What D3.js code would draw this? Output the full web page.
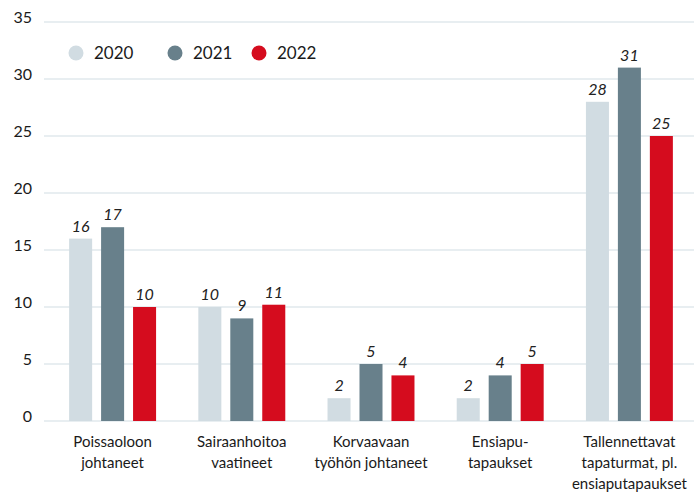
<!DOCTYPE html>
<html>
<head>
<meta charset="utf-8">
<script src="https://cdn.jsdelivr.net/npm/d3@7"></script>
<style>
  body { margin: 0; background: #fff; }
  svg { font-family: Lato, "Open Sans", sans-serif; }
</style>
</head>
<body>
<div id="chart"></div>
<script>
const width = 694;
const height = 492;

// Data
const categories = [
    ["Poissaoloon", "johtaneet"],
    ["Sairaanhoitoa", "vaatineet"],
    ["Korvaavaan", "työhön johtaneet"],
    ["Ensiapu-", "tapaukset"],
    ["Tallennettavat", "tapaturmat, pl.", "ensiaputapaukset"]
];
const years = ["2020", "2021", "2022"];
const values2020 = [16, 10, 2, 2, 28];
const values2021 = [17, 9, 5, 4, 31];
const values2022 = [10, 10.2, 4, 5, 25];
const labels2020 = ["16", "10", "2", "2", "28"];
const labels2021 = ["17", "9", "5", "4", "31"];
const labels2022 = ["10", "11", "4", "5", "25"];
const yTicks = [0, 5, 10, 15, 20, 25, 30, 35];
const colors = ["#d1dce2", "#68808b", "#d50c1e"];

const series = [values2020, values2021, values2022];
const seriesLabels = [labels2020, labels2021, labels2022];

const svg = d3.select("#chart")
    .append("svg")
    .attr("width", width)
    .attr("height", height);

const catIdx = categories.map((d, i) => i);

const x0 = d3.scaleBand()
    .domain(catIdx)
    .range([48, 694])
    .paddingInner(0.327)
    .paddingOuter(0.1635);

const x1 = d3.scaleBand()
    .domain(years)
    .range([0, x0.bandwidth()])
    .paddingInner(0.28);

const y = d3.scaleLinear()
    .domain([0, 35])
    .range([421, 22]);

// grid lines
svg.append("g")
    .selectAll("line")
    .data(yTicks)
    .join("line")
    .attr("x1", 44)
    .attr("x2", width)
    .attr("y1", d => y(d))
    .attr("y2", d => y(d))
    .attr("stroke", "#e1e8ec")
    .attr("stroke-width", 1.5);

// y axis labels
const yAxis = d3.axisLeft(y).tickValues(yTicks).tickSize(0).tickPadding(0);
svg.append("g")
    .attr("transform", "translate(32,0)")
    .call(yAxis)
    .call(g => g.select(".domain").remove())
    .selectAll("text")
    .style("font-size", "16px")
    .style("font-family", "Lato, sans-serif")
    .attr("fill", "#1a1a1a")
    .attr("dy", "0.05em");

// bars
const groups = svg.append("g")
    .selectAll("g")
    .data(catIdx)
    .join("g")
    .attr("transform", i => `translate(${x0(i)},0)`);

groups.selectAll("rect")
    .data(i => years.map((yr, s) => ({ yr, s, v: series[s][i], label: seriesLabels[s][i] })))
    .join("rect")
    .attr("x", d => x1(d.yr))
    .attr("width", x1.bandwidth())
    .attr("y", d => y(d.v))
    .attr("height", d => y(0) - y(d.v))
    .attr("fill", d => colors[d.s]);

groups.selectAll("text.value")
    .data(i => years.map((yr, s) => ({ yr, s, v: series[s][i], label: seriesLabels[s][i] })))
    .join("text")
    .attr("class", "value")
    .attr("x", d => x1(d.yr) + x1.bandwidth() / 2)
    .attr("y", d => y(d.v) - 7)
    .attr("text-anchor", "middle")
    .style("font-size", "16px")
    .style("font-style", "italic")
    .attr("fill", "#222")
    .text(d => d.label);

// category labels
svg.append("g")
    .selectAll("text")
    .data(catIdx)
    .join("text")
    .attr("x", i => x0(i) + x0.bandwidth() / 2)
    .attr("y", 447)
    .attr("text-anchor", "middle")
    .style("font-size", "15px")
    .attr("fill", "#1a1a1a")
    .each(function(i) {
        d3.select(this).selectAll("tspan")
            .data(categories[i])
            .join("tspan")
            .attr("x", x0(i) + x0.bandwidth() / 2)
            .attr("dy", (d, k) => k === 0 ? 0 : 21)
            .text(d => d);
    });

// legend
const legendX = [76, 175, 259];
const legend = svg.append("g")
    .selectAll("g")
    .data(years)
    .join("g")
    .attr("transform", (d, i) => `translate(${legendX[i]},53)`);

legend.append("circle")
    .attr("r", 7.5)
    .attr("fill", (d, i) => colors[i]);

legend.append("text")
    .attr("x", 18)
    .attr("dy", "0.35em")
    .style("font-size", "17px")
    .attr("fill", "#1a1a1a")
    .text(d => d);
</script>
</body>
</html>
